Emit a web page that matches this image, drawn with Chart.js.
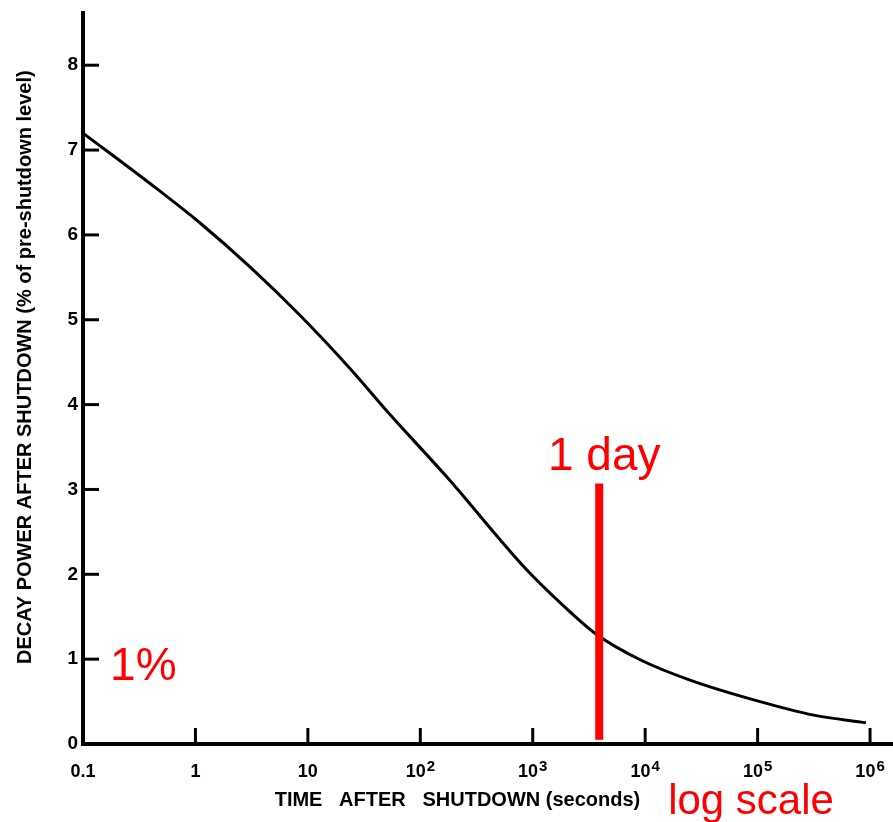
<!DOCTYPE html>
<html>
<head>
<meta charset="utf-8">
<script src="https://cdn.jsdelivr.net/npm/chart.js@4.4.1/dist/chart.umd.min.js"></script>
<style>
  html, body { margin: 0; padding: 0; background: #fff; }
  #wrap { width: 893px; height: 822px; }
</style>
</head>
<body>
<div id="wrap"><canvas id="myChart" width="893" height="822"></canvas></div>
<script>
// time after shutdown (s) and decay power (% of pre-shutdown level)
const times = [0.1, 0.4, 1.1, 3.07, 8.55, 23.9, 54, 174, 845, 1770, 3620, 9120, 25400, 92500, 316000, 918000];
const power = [7.2, 6.6, 6.14, 5.62, 5.05, 4.42, 3.88, 3.14, 2.08, 1.66, 1.30, 0.99, 0.75, 0.52, 0.34, 0.25];

// red marker line
const markerTime = 3900;
const markerRange = [0.05, 3.07];

const xTickValues = [0.1, 1, 10, 100, 1000, 10000, 100000, 1000000];
const xTickLabels = ['0.1', '1', '10', '10^2', '10^3', '10^4', '10^5', '10^6'];
const yTickValues = [0, 1, 2, 3, 4, 5, 6, 7, 8];

const curve = times.map((t, i) => ({ x: t, y: power[i] }));
const marker = markerRange.map(v => ({ x: markerTime, y: v }));

const FAM = '"Liberation Sans", Arial, sans-serif';

// ticks in this figure point inward, so draw them ourselves from the scales
const inwardTicks = {
  id: 'inwardTicks',
  afterDatasetsDraw(chart) {
    const { ctx, chartArea, scales: { x, y } } = chart;
    ctx.save();
    ctx.strokeStyle = '#000';
    ctx.lineWidth = 3;
    x.ticks.forEach((t, i) => {
      const px = x.getPixelForTick(i);
      ctx.beginPath();
      ctx.moveTo(px, chartArea.bottom);
      ctx.lineTo(px, chartArea.bottom - 16);
      ctx.stroke();
    });
    y.ticks.forEach((t, i) => {
      const py = y.getPixelForTick(i);
      ctx.beginPath();
      ctx.moveTo(chartArea.left, py);
      ctx.lineTo(chartArea.left + 16, py);
      ctx.stroke();
    });

    // x tick labels with raised exponents
    ctx.fillStyle = '#000';
    ctx.textBaseline = 'alphabetic';
    ctx.textAlign = 'left';
    const baseY = chartArea.bottom + 33;
    x.ticks.forEach((t, i) => {
      const parts = xTickLabels[i].split('^');
      ctx.font = 'bold 18px ' + FAM;
      const w0 = ctx.measureText(parts[0]).width;
      let w1 = 0;
      if (parts[1]) {
        ctx.font = 'bold 15px ' + FAM;
        w1 = ctx.measureText(parts[1]).width + 1;
      }
      const left = x.getPixelForTick(i) - (w0 + w1) / 2;
      ctx.font = 'bold 18px ' + FAM;
      ctx.fillText(parts[0], left, baseY);
      if (parts[1]) {
        ctx.font = 'bold 15px ' + FAM;
        ctx.fillText(parts[1], left + w0 + 1, baseY - 6);
      }
    });

    // red notes
    ctx.fillStyle = '#ff0000';
    ctx.font = '46px ' + FAM;
    ctx.textAlign = 'center';
    ctx.fillText('1 day', x.getPixelForValue(markerTime) + 5, y.getPixelForValue(markerRange[1]) - 14);
    ctx.textAlign = 'left';
    ctx.fillText('1%', x.getPixelForValue(0.174), y.getPixelForValue(0.76));
    ctx.font = '42px ' + FAM;
    ctx.fillText('log scale', x.getPixelForValue(16000), chart.height - 8);
    ctx.restore();
  }
};

new Chart(document.getElementById('myChart'), {
  type: 'line',
  data: {
    datasets: [{
      label: '1 day',
      data: marker,
      borderColor: '#ff0000',
      borderWidth: 8,
      borderCapStyle: 'butt',
      pointRadius: 0
    }, {
      label: 'Decay power',
      data: curve,
      borderColor: '#000',
      borderWidth: 3,
      pointRadius: 0,
      cubicInterpolationMode: 'monotone',
      fill: false
    }]
  },
  options: {
    responsive: false,
    animation: false,
    layout: { padding: { top: 8, right: 0, left: 0, bottom: 0 } },
    plugins: { legend: { display: false }, tooltip: { enabled: false } },
    scales: {
      x: {
        type: 'logarithmic',
        min: 0.1,
        max: 1600000,
        afterBuildTicks: (scale) => { scale.ticks = xTickValues.map(v => ({ value: v })); },
        afterFit: (scale) => { scale.height = 78; },
        grid: { display: false, drawTicks: false },
        border: { display: true, color: '#000', width: 4 },
        ticks: { display: false, autoSkip: false, maxRotation: 0 },
        title: {
          display: true,
          text: 'TIME   AFTER   SHUTDOWN (seconds)           ',
          color: '#000',
          font: { family: FAM, size: 20, weight: 'bold' },
          padding: { top: 0, bottom: 10 }
        }
      },
      y: {
        min: 0,
        max: 8.62,
        afterBuildTicks: (scale) => { scale.ticks = yTickValues.map(v => ({ value: v })); },
        afterFit: (scale) => { scale.width = 83; },
        grid: { display: false, drawTicks: false },
        border: { display: true, color: '#000', width: 4 },
        ticks: {
          padding: 5,
          color: '#000',
          font: { family: FAM, size: 19, weight: 'bold', lineHeight: 0.8 }
        },
        title: {
          display: true,
          text: '    DECAY POWER AFTER SHUTDOWN (% of pre-shutdown level)',
          color: '#000',
          font: { family: FAM, size: 20, weight: 'bold' },
          padding: { top: 13, bottom: 0 }
        }
      }
    }
  },
  plugins: [inwardTicks]
});
</script>
</body>
</html>
